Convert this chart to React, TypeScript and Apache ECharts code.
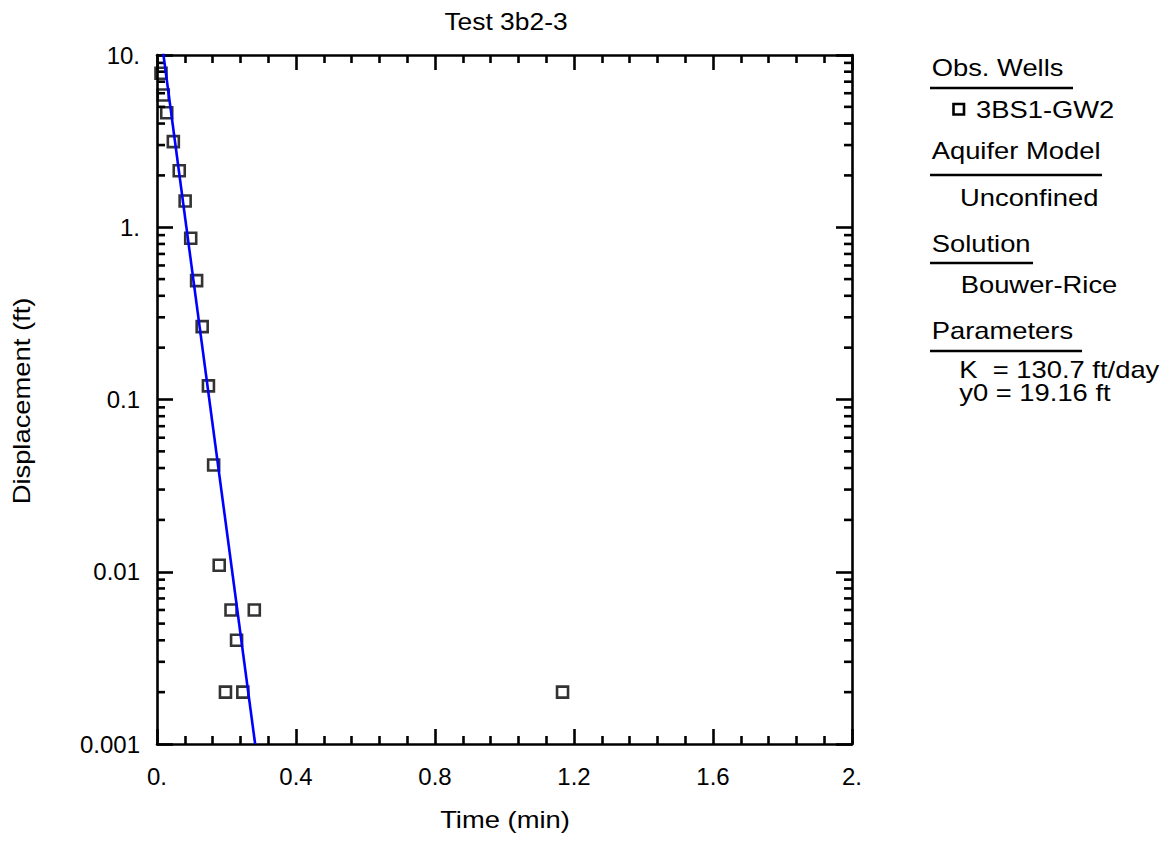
import React, { useEffect, useRef } from "react";
import * as echarts from "echarts";

// Observed data: Time (min) vs Displacement (ft), well 3BS1-GW2
const obsTime = [0.0115, 0.018, 0.028, 0.047, 0.064, 0.081, 0.097, 0.114, 0.13, 0.148, 0.163, 0.179, 0.213, 0.28, 0.229, 0.197, 0.247, 1.167];
const obsDisp = [7.83, 5.86, 4.62, 3.14, 2.13, 1.42, 0.863, 0.49, 0.265, 0.12, 0.0417, 0.0109, 0.006, 0.006, 0.004, 0.002, 0.002, 0.002];

// Bouwer-Rice fitted line (y0 = 19.16 ft)
const fitTime = [0, 0.2824];
const fitDisp = [19.16, 0.001];

const xTickLabels = ["0.", "0.4", "0.8", "1.2", "1.6", "2."];
const yTickLabels = ["0.001", "0.01", "0.1", "1.", "10."];
const yDecades = [0.001, 0.01, 0.1, 1];
const yMinorMultipliers = [2, 3, 4, 5, 6, 7, 8, 9];

const legendHeaders = ["Obs. Wells", "Aquifer Model", "Solution", "Parameters"];
const wellName = "3BS1-GW2";
const aquiferModel = "Unconfined";
const solutionName = "Bouwer-Rice";
const paramLines = ["K  = 130.7 ft/day", "y0 = 19.16 ft"];

const FONT = "'Liberation Sans', Arial, sans-serif";
const SX = 1.19;
const LW = 2.6;

export default function App() {
  const ref = useRef<HTMLDivElement>(null);

  useEffect(() => {
    if (!ref.current) return;
    const chart = echarts.init(ref.current, null, { renderer: "svg" });

    const yMinor: number[] = [];
    yDecades.forEach((d) => yMinorMultipliers.forEach((m) => yMinor.push(+(d * m).toPrecision(3))));

    const axisLine = { show: true, onZero: false, lineStyle: { color: "#000", width: LW } };
    const xCommon = {
      type: "value" as const,
      min: 0,
      max: 2,
      interval: 0.4,
      axisLine,
      axisTick: { show: true, inside: true, length: 15, lineStyle: { color: "#000", width: LW } },
      minorTick: { show: true, splitNumber: 5, length: 8, lineStyle: { color: "#000", width: LW } },
      splitLine: { show: false },
      minorSplitLine: { show: false },
    };
    const yCommon = {
      type: "log" as const,
      logBase: 10,
      min: 0.001,
      max: 10,
      axisLine,
      axisTick: { show: true, inside: true, length: 16, lineStyle: { color: "#000", width: LW } },
      splitLine: { show: false },
    };

    const txt = (text: string, x: number, y: number, extra: any = {}) => ({
      type: "text",
      x,
      y,
      scaleX: SX,
      silent: true,
      style: {
        text,
        fill: "#000",
        font: `23px ${FONT}`,
        textAlign: "left",
        textVerticalAlign: "middle",
      },
      ...extra,
    });
    const uline = (x1: number, x2: number, y: number) => ({
      type: "line",
      silent: true,
      shape: { x1, y1: y, x2, y2: y },
      style: { stroke: "#000", lineWidth: LW },
    });

    const option: any = {
      animation: false,
      backgroundColor: "#fff",
      grid: { left: 157, top: 55, width: 695, height: 689, containLabel: false },
      xAxis: [
        {
          ...xCommon,
          position: "bottom",
          axisLabel: {
            show: true,
            margin: 20,
            fontSize: 24,
            fontFamily: FONT,
            color: "#000",
            formatter: (v: number) => xTickLabels[Math.round(v / 0.4)] ?? "",
          },
        },
        { ...xCommon, position: "top", axisLabel: { show: false } },
      ],
      yAxis: [
        {
          ...yCommon,
          position: "left",
          axisLabel: {
            show: true,
            margin: 17,
            fontSize: 24,
            fontFamily: FONT,
            color: "#000",
            formatter: (v: number) => yTickLabels[Math.round(Math.log10(v)) + 3] ?? "",
          },
        },
        { ...yCommon, position: "right", axisLabel: { show: false } },
      ],
      series: [
        {
          type: "custom",
          name: "yMinorTicks",
          xAxisIndex: 0,
          yAxisIndex: 0,
          silent: true,
          clip: false,
          z: 3,
          data: yMinor.map((v) => [0, v]),
          renderItem: (params: any, api: any) => {
            const p = api.coord([0, api.value(1)]);
            const cs = params.coordSys;
            const y = p[1];
            return {
              type: "group",
              children: [
                { type: "line", shape: { x1: cs.x, y1: y, x2: cs.x + 8, y2: y }, style: { stroke: "#000", lineWidth: LW } },
                { type: "line", shape: { x1: cs.x + cs.width - 8, y1: y, x2: cs.x + cs.width, y2: y }, style: { stroke: "#000", lineWidth: LW } },
              ],
            };
          },
        },
        {
          type: "scatter",
          name: wellName,
          xAxisIndex: 0,
          yAxisIndex: 0,
          symbol: "rect",
          symbolSize: 11,
          itemStyle: { color: "rgba(255,255,255,0)", borderColor: "#000", borderWidth: LW },
          z: 4,
          data: obsTime.map((t, i) => [t, obsDisp[i]]),
        },
        {
          type: "line",
          name: "Bouwer-Rice fit",
          xAxisIndex: 0,
          yAxisIndex: 0,
          showSymbol: false,
          symbol: "none",
          clip: true,
          z: 5,
          lineStyle: { color: "#0000ff", width: 2.6 },
          data: fitTime.map((t, i) => [t, fitDisp[i]]),
        },
      ],
      graphic: [
        {
          type: "text",
          x: 506,
          y: 21,
          scaleX: 1.1,
          silent: true,
          style: { text: "Test 3b2-3", fill: "#000", font: `24px ${FONT}`, textAlign: "center", textVerticalAlign: "middle" },
        },
        txt("Time (min)", 505, 820, { style: { text: "Time (min)", fill: "#000", font: `23px ${FONT}`, textAlign: "center", textVerticalAlign: "middle" } }),
        {
          type: "text",
          x: 22,
          y: 401,
          rotation: Math.PI / 2,
          scaleX: SX,
          silent: true,
          style: { text: "Displacement (ft)", fill: "#000", font: `23px ${FONT}`, textAlign: "center", textVerticalAlign: "middle" },
        },
        txt(legendHeaders[0], 931.7, 68),
        uline(930, 1073, 88),
        {
          type: "rect",
          silent: true,
          shape: { x: 953.5, y: 104, width: 10.5, height: 10.5 },
          style: { fill: "rgba(255,255,255,0)", stroke: "#000", lineWidth: LW },
        },
        txt(wellName, 976, 110),
        txt(legendHeaders[1], 931.7, 151),
        uline(930, 1102, 175),
        txt(aquiferModel, 960, 198),
        txt(legendHeaders[2], 931.7, 244),
        uline(930, 1033, 263),
        txt(solutionName, 960.7, 285),
        txt(legendHeaders[3], 931.7, 331),
        uline(930, 1082, 351),
        txt(paramLines[0], 959.3, 370),
        txt(paramLines[1], 959.3, 393),
      ],
    };

    chart.setOption(option);
    return () => chart.dispose();
  }, []);

  return <div ref={ref} style={{ position: "fixed", left: 0, top: 0, width: 1168, height: 842 }} />;
}
